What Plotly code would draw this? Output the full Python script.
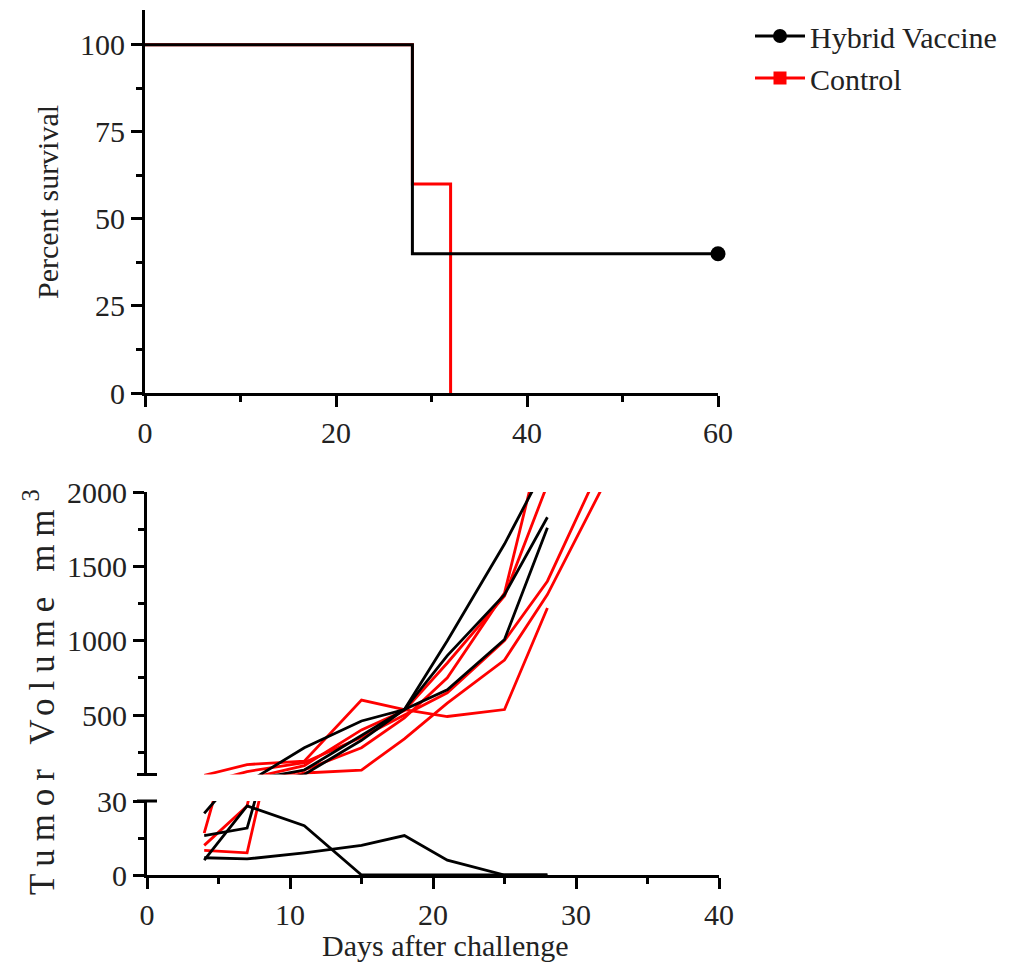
import plotly.graph_objects as go

# ---------------- data ----------------
surv_hv_days = [0, 28, 60]
surv_hv_pct = [100, 40, 40]
surv_ctrl_days = [0, 28, 32]
surv_ctrl_pct = [100, 60, 0]

days = [4, 7, 11, 15, 18, 21, 25, 28, 32]

hv_mice = [
    [25, 45, 280, 460, 537, 1000, 1650, 2200],
    [16, 19, 100, 330, 537, 900, 1310, 1830],
    [50, 60, 130, 360, 537, 670, 1008, 1760],
    [6, 28, 20, 0, 0, 0, 0, 0],
    [7, 6.5, 9, 12, 16, 6, 0, 0],
]
ctrl_mice = [
    [95, 167, 190, 600, 537, 490, 537, 1220],
    [10, 9, 110, 130, 340, 580, 870, 1310, 2060],
    [12, 28, 130, 280, 480, 750, 1320, 2500],
    [17, 70, 160, 400, 530, 850, 1300, 2050],
    [40, 120, 180, 350, 500, 650, 1000, 1400, 2230],
]

BLACK = "#000000"
RED = "#ff0000"
FONT = "Liberation Serif"
FS = 30
TXT = "#222"

fig = go.Figure()

# ---------------- survival ----------------
fig.add_trace(go.Scatter(x=surv_ctrl_days, y=surv_ctrl_pct, mode="lines",
                         line=dict(color=RED, width=3, shape="hv"),
                         xaxis="x", yaxis="y", showlegend=False))
fig.add_trace(go.Scatter(x=surv_hv_days, y=surv_hv_pct, mode="lines",
                         line=dict(color=BLACK, width=3, shape="hv"),
                         xaxis="x", yaxis="y", showlegend=False))
fig.add_trace(go.Scatter(x=[surv_hv_days[-1]], y=[surv_hv_pct[-1]], mode="markers",
                         marker=dict(color=BLACK, size=15, symbol="circle"),
                         cliponaxis=False, xaxis="x", yaxis="y", showlegend=False))

# legend entries
fig.add_trace(go.Scatter(x=[None], y=[None], mode="lines+markers", name="Hybrid Vaccine",
                         line=dict(color=BLACK, width=3),
                         marker=dict(color=BLACK, size=14, symbol="circle"),
                         xaxis="x", yaxis="y"))
fig.add_trace(go.Scatter(x=[None], y=[None], mode="lines+markers", name="Control",
                         line=dict(color=RED, width=3),
                         marker=dict(color=RED, size=13, symbol="square"),
                         xaxis="x", yaxis="y"))

# ---------------- tumor volume ----------------
for group, color in ((ctrl_mice, RED), (hv_mice, BLACK)):
    for vals in group:
        d = days[:len(vals)]
        for xa, ya in (("x3", "y2"), ("x2", "y3")):
            fig.add_trace(go.Scatter(x=d, y=vals, mode="lines",
                                     line=dict(color=color, width=2.8),
                                     xaxis=xa, yaxis=ya, showlegend=False))

W, H = 1026, 966
def px_x(p):
    return p / W
def px_y(p):
    return 1 - p / H

axis_common = dict(showline=True, linecolor=BLACK, linewidth=3, showgrid=False,
                   zeroline=False, ticks="outside", ticklen=11, tickwidth=2.5,
                   tickcolor=BLACK, automargin=False,
                   tickfont=dict(family=FONT, size=FS, color=TXT))

def minor(vals):
    return dict(tickvals=vals, ticklen=6, tickwidth=2.5, tickcolor=BLACK, ticks="outside")

fig.update_layout(
    width=W, height=H,
    margin=dict(l=0, r=0, t=0, b=0, pad=0, autoexpand=False),
    plot_bgcolor="white", paper_bgcolor="white",
    font=dict(family=FONT, size=FS, color=TXT),
    xaxis=dict(domain=[px_x(145), px_x(718)], range=[0, 60], anchor="y",
               tickvals=[0, 20, 40, 60], minor=minor([10, 30, 50]), **axis_common),
    yaxis=dict(domain=[px_y(393), px_y(10)], range=[0, 110], anchor="x",
               tickvals=[0, 25, 50, 75, 100], minor=minor([12.5, 37.5, 62.5, 87.5]),
               **axis_common),
    xaxis2=dict(domain=[px_x(147), px_x(719)], range=[0, 40], anchor="y3",
                tickvals=[0, 10, 20, 30, 40], minor=minor([5, 15, 25, 35]), **axis_common),
    xaxis3=dict(domain=[px_x(147), px_x(719)], range=[0, 40], anchor="y2",
                matches="x2", visible=False),
    yaxis2=dict(domain=[px_y(774.5), px_y(492)], range=[100, 2000], anchor="x3",
                tickvals=[500, 1000, 1500, 2000], minor=minor([250, 750, 1250, 1750]),
                **axis_common),
    yaxis3=dict(domain=[px_y(875), px_y(801)], range=[0, 30], anchor="x2",
                tickvals=[0, 30], minor=minor([15]), **axis_common),
    legend=dict(x=px_x(750), y=px_y(10), xanchor="left", yanchor="top",
                font=dict(family=FONT, size=FS, color=TXT),
                bgcolor="rgba(0,0,0,0)", tracegroupgap=4, itemwidth=50),
    showlegend=True,
)

# axis titles as annotations
fig.add_annotation(text="Percent survival", xref="paper", yref="paper",
                   x=px_x(47), y=px_y(202), textangle=-90, showarrow=False,
                   xanchor="center", yanchor="middle",
                   font=dict(family=FONT, size=FS, color=TXT))
fig.add_annotation(text='<span style="letter-spacing:8px">Tumor Volume mm<sup>3</sup></span>',
                   xref="paper", yref="paper",
                   x=px_x(39), y=px_y(688), textangle=-90, showarrow=False,
                   xanchor="center", yanchor="middle",
                   font=dict(family=FONT, size=35, color=TXT))
fig.add_annotation(text="Days after challenge", xref="paper", yref="paper",
                   x=px_x(445), y=px_y(945), showarrow=False,
                   xanchor="center", yanchor="middle",
                   font=dict(family=FONT, size=FS, color=TXT))

# axis-break ticks
for yp in (774.5, 801):
    fig.add_shape(type="line", xref="paper", yref="paper",
                  x0=px_x(137), x1=px_x(157), y0=px_y(yp), y1=px_y(yp),
                  line=dict(color=BLACK, width=3))

fig.write_html("out.html")
